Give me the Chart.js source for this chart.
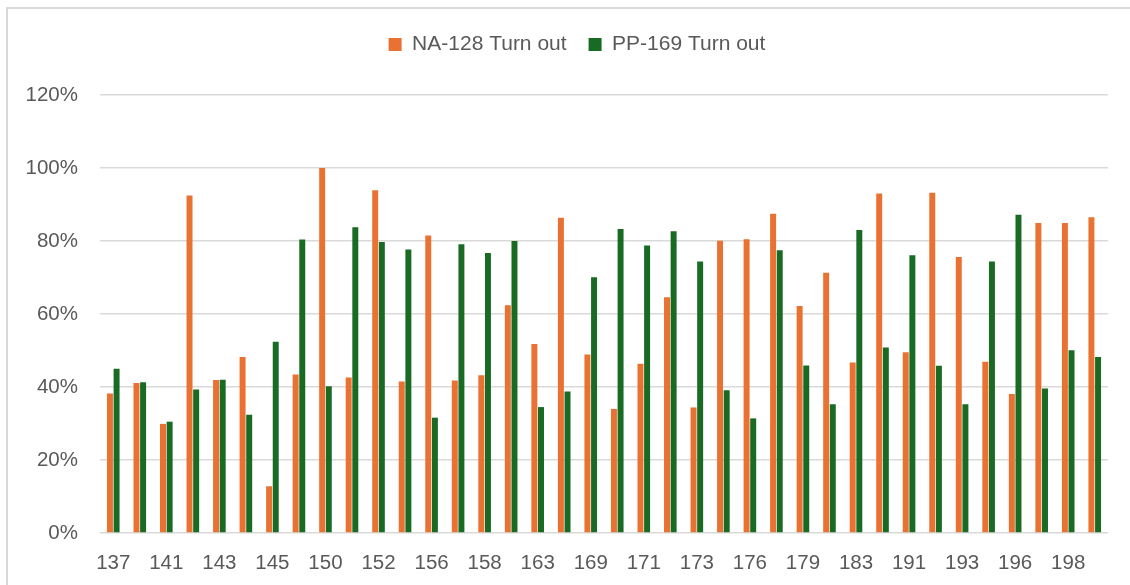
<!DOCTYPE html>
<html>
<head>
<meta charset="utf-8">
<script src="https://cdn.jsdelivr.net/npm/chart.js@4/dist/chart.umd.min.js"></script>
<style>
  html, body { margin: 0; padding: 0; background: #ffffff; overflow: hidden; }
  #frame { position: absolute; left: 6px; top: 7px; width: 1300px; height: 700px;
           border: 2px solid #d9d9d9; box-sizing: border-box; pointer-events: none; }
  #wrap { position: absolute; left: 0; top: 0; width: 1130px; height: 585px; }
</style>
</head>
<body>
<div id="frame"></div>
<div id="wrap"><canvas id="c" width="1130" height="585"></canvas></div>
<script>
const categories = ['137','139','141','142','143','144','145','148','150','151',
                    '152','154','156','157','158','160','163','165','169','170',
                    '171','172','173','174','176','177','179','181','183','187',
                    '191','192','193','194','196','197','198','199'];
const naTurnout = [38.2, 41.1, 29.9, 92.5, 41.9, 48.2, 12.8, 43.4, 100, 42.6,
                   93.9, 41.5, 81.5, 41.8, 43.2, 62.4, 51.8, 86.4, 48.9, 34.0,
                   46.4, 64.6, 34.4, 80.1, 80.5, 87.5, 62.2, 71.3, 46.7, 93.0,
                   49.5, 93.2, 75.6, 46.9, 38.1, 84.9, 84.9, 86.5];
const ppTurnout = [45.0, 41.3, 30.5, 39.3, 42.0, 32.4, 52.4, 80.4, 40.2, 83.8,
                   79.7, 77.7, 31.6, 79.1, 76.7, 80.0, 34.5, 38.8, 70.1, 83.3,
                   78.8, 82.7, 74.4, 39.1, 31.4, 77.5, 45.9, 35.3, 83.0, 50.8,
                   76.1, 45.8, 35.3, 74.4, 87.2, 39.6, 50.1, 48.2];
const yTicks = [0, 20, 40, 60, 80, 100, 120];
const seriesNames = ['NA-128 Turn out', 'PP-169 Turn out'];

const textColor = '#595959';
const gridColor = '#d9d9d9';
const fontFamily = '"Liberation Sans", Arial, sans-serif';

const legendSpacer = {
  id: 'legendSpacer',
  beforeInit(chart) {
    const origFit = chart.legend.fit;
    chart.legend.fit = function () {
      origFit.bind(chart.legend)();
      this.height += 30;
    };
  },
  afterLayout(chart) {
    chart.legend.left += 23;
    chart.legend.right += 23;
  }
};

new Chart(document.getElementById('c'), {
  type: 'bar',
  data: {
    labels: categories,
    datasets: [
      { label: seriesNames[0], data: naTurnout, backgroundColor: '#E97132',
        categoryPercentage: 0.5, barPercentage: 0.9 },
      { label: seriesNames[1], data: ppTurnout, backgroundColor: '#196B24',
        categoryPercentage: 0.5, barPercentage: 0.9 }
    ]
  },
  plugins: [legendSpacer],
  options: {
    responsive: false,
    animation: false,
    layout: { padding: { left: 0, right: 22, top: 12, bottom: 0 } },
    plugins: {
      legend: {
        position: 'top',
        align: 'center',
        labels: {
          boxWidth: 13, boxHeight: 13, padding: 22,
          color: textColor,
          font: { family: fontFamily, size: 21 }
        }
      },
      tooltip: { enabled: false }
    },
    scales: {
      x: {
        afterFit(scale) { scale.height = 52; },
        grid: { display: false, drawTicks: false },
        border: { display: false },
        ticks: {
          autoSkip: false, maxRotation: 0, minRotation: 0,
          padding: 18.5,
          color: textColor,
          font: { family: fontFamily, size: 20.5 },
          callback: function (v, i) { return i % 2 === 0 ? this.getLabelForValue(v) : ''; }
        }
      },
      y: {
        min: 0, max: 120,
        afterFit(scale) { scale.width = 100; },
        afterBuildTicks(scale) { scale.ticks = yTicks.map(v => ({ value: v })); },
        grid: { color: gridColor, lineWidth: 1.5, drawTicks: false },
        border: { display: false },
        ticks: {
          padding: 22,
          color: textColor,
          font: { family: fontFamily, size: 20.5 },
          callback: v => v + '%'
        }
      }
    }
  }
});
</script>
</body>
</html>
